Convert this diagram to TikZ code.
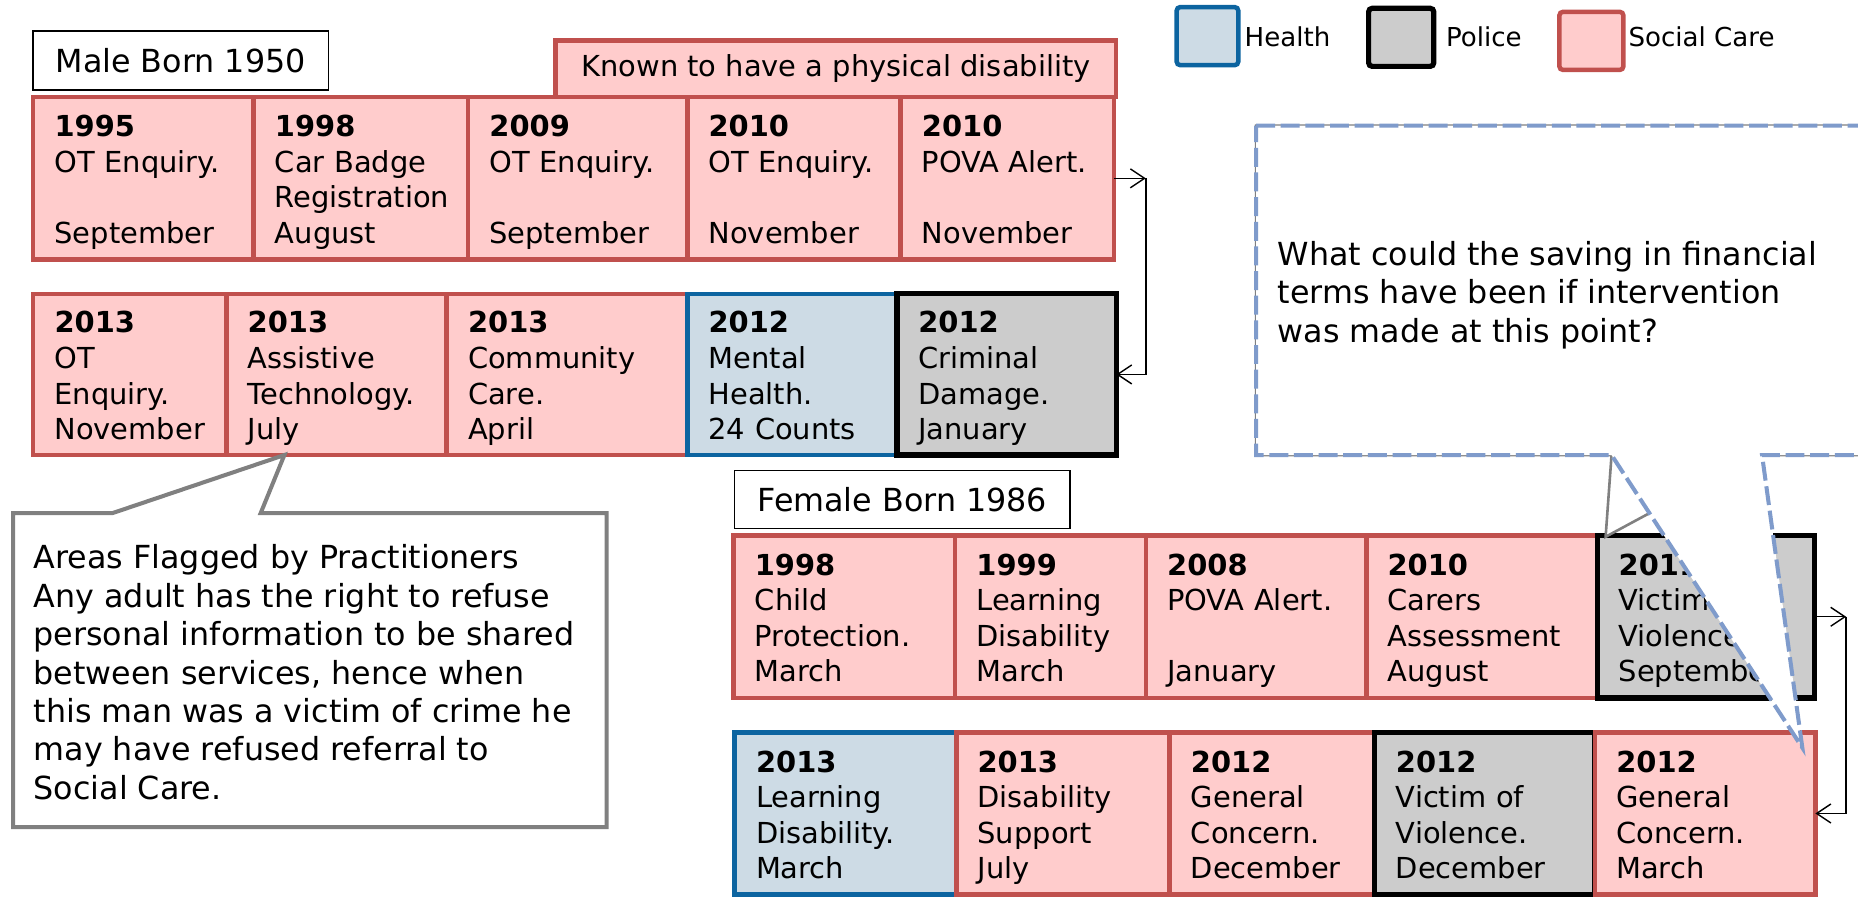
\documentclass[tikz,border=0pt]{standalone}
\usepackage{fontspec}
\setmainfont{DejaVu Sans}
\usetikzlibrary{arrows.meta}
\definecolor{scfill}{RGB}{255,204,204}
\definecolor{scdraw}{RGB}{192,80,77}
\definecolor{hfill}{RGB}{205,219,229}
\definecolor{hdraw}{RGB}{12,100,160}
\definecolor{pfill}{RGB}{204,204,204}
\definecolor{cgray}{RGB}{128,128,128}
\definecolor{cblue}{RGB}{127,155,203}
\newcommand{\cellfont}{\fontsize{12.2}{15}\selectfont}
\newcommand{\callfont}{\fontsize{13.4}{16.2}\selectfont}
\newcommand{\legfont}{\fontsize{11}{13}\selectfont}
\newcommand{\evtext}[4]{\strut\rule{0pt}{14.5pt}\textbf{#1}\\\strut\mbox{#2}\\\strut\mbox{#3}\\\strut\mbox{#4}}
\newcommand{\evt}[7]{%
  \pgfmathsetmacro{\ew}{(#4-#3)*0.5}%
  \pgfmathsetmacro{\eh}{(#6-#5)*0.5}%
  \pgfmathsetmacro{\etw}{(#4-#3-36)*0.5}%
  \node[#1, minimum width=\ew pt, minimum height=\eh pt, text width=\etw pt] (#2) at ({(#3+#4)/2},{(#5+#6)/2}) {#7};%
}
\tikzset{
  evt/.style={rectangle, inner sep=0pt, outer sep=0pt, font=\cellfont, align=left, line width=1.9pt},
  soc/.style={evt, fill=scfill, draw=scdraw},
  hlt/.style={evt, fill=hfill, draw=hdraw, line width=1.9pt},
  pol/.style={evt, fill=pfill, draw=black, line width=2.2pt},
  flow/.style={-{Straight Barb[length=6pt,width=8pt]}, line width=0.6pt},
  lbl/.style={draw=black, line width=0.6pt, fill=white, font=\callfont, inner sep=0pt},
  calltext/.style={anchor=north west, font=\callfont, align=left, inner sep=0pt},
  legtext/.style={anchor=west, font=\legfont, inner sep=0pt},
}
\begin{document}
\begin{tikzpicture}[x=0.5pt,y=-0.5pt]
\useasboundingbox (0,0) rectangle (1568,760);

% legend
\node[hlt, minimum width=26pt, minimum height=24.5pt, rounded corners=1.5pt] (lh) at (1019,30.5) {};
\node[legtext] (lht) at (1050,31) {Health};
\node[pol, minimum width=27.5pt, minimum height=24.5pt, rounded corners=1.5pt] (lp) at (1182.5,31.5) {};
\node[legtext] (lpt) at (1220,31) {Police};
\node[soc, minimum width=27pt, minimum height=24.5pt, rounded corners=1.5pt] (ls) at (1343,34.5) {};
\node[legtext] (lst) at (1374,31) {Social Care};

% male
\node[lbl, minimum width=124.5pt, minimum height=25pt] (male) at (152.5,51) {Male Born 1950};
\node[soc, minimum width=236.5pt, minimum height=24pt] (known) at (705.5,58) {Known to have a physical disability};

\evt{soc}{m1a}{28}{214}{82}{219}{\evtext{1995}{OT Enquiry.}{}{September}}
\evt{soc}{m1b}{214}{395}{82}{219}{\evtext{1998}{Car Badge}{Registration}{August}}
\evt{soc}{m1c}{395}{580}{82}{219}{\evtext{2009}{OT Enquiry.}{}{September}}
\evt{soc}{m1d}{580}{760}{82}{219}{\evtext{2010}{OT Enquiry.}{}{November}}
\evt{soc}{m1e}{760}{940}{82}{219}{\evtext{2010}{POVA Alert.}{}{November}}

\evt{soc}{m2a}{28}{191}{248}{384}{\evtext{2013}{OT}{Enquiry.}{November}}
\evt{soc}{m2b}{191}{377}{248}{384}{\evtext{2013}{Assistive}{Technology.}{July}}
\evt{soc}{m2c}{377}{580}{248}{384}{\evtext{2013}{Community}{Care.}{April}}
\evt{hlt}{m2d}{580}{757}{248}{384}{\evtext{2012}{Mental}{Health.}{24 Counts}}
\evt{pol}{m2e}{757}{942}{248}{384}{\evtext{2012}{Criminal}{Damage.}{January}}

\coordinate (mturn) at (967,150.5);
\draw[flow] (m1e) -- (mturn);
\draw[flow] (mturn) |- (m2e);

% female
\node[lbl, minimum width=141.5pt, minimum height=24.5pt] (female) at (761.5,421.5) {Female Born 1986};

\evt{soc}{f1a}{619}{806}{452}{589}{\evtext{1998}{Child}{Protection.}{March}}
\evt{soc}{f1b}{806}{967}{452}{589}{\evtext{1999}{Learning}{Disability}{March}}
\evt{soc}{f1c}{967}{1153}{452}{589}{\evtext{2008}{POVA Alert.}{}{January}}
\evt{soc}{f1d}{1153}{1348}{452}{589}{\evtext{2010}{Carers}{Assessment}{August}}
\evt{pol}{f1e}{1348}{1531}{452}{589}{\evtext{2011}{Victim of}{Violence.}{September}}

\evt{hlt}{f2a}{620}{807}{618}{755}{\evtext{2013}{Learning}{Disability.}{March}}
\evt{soc}{f2b}{807}{987}{618}{755}{\evtext{2013}{Disability}{Support}{July}}
\evt{soc}{f2c}{987}{1160}{618}{755}{\evtext{2012}{General}{Concern.}{December}}
\evt{pol}{f2d}{1160}{1346}{618}{755}{\evtext{2012}{Victim of}{Violence.}{December}}
\evt{soc}{f2e}{1346}{1532}{618}{755}{\evtext{2012}{General}{Concern.}{March}}

\coordinate (fturn) at (1558,520.5);
\draw[flow] (f1e) -- (fturn);
\draw[flow] (fturn) |- (f2e);

% left callout
\draw[draw=cgray, line width=1.7pt, fill=white, line join=miter]
  (11,433) -- (95,433) -- (240,384) -- (220,433) -- (512,433) -- (512,698) -- (11,698) -- cycle;
\node[calltext] (flagtxt) at (28,457) {\strut Areas Flagged by Practitioners\\\strut Any adult has the right to refuse\\\strut personal information to be shared\\\strut between services, hence when\\\strut this man was a victim of crime he\\\strut may have refused referral to\\\strut Social Care.};

% right callouts
\draw[draw=cgray, line width=1.1pt, fill=white]
  (1060,106) -- (1610,106) -- (1610,384) -- (1483,384) -- (1355,453) -- (1360,384) -- (1060,384) -- cycle;
\draw[draw=cblue, line width=1.7pt, fill=white, dash pattern=on 8pt off 2.4pt]
  (1060,106) -- (1610,106) -- (1610,384) -- (1487,384) -- (1521,631) -- (1360,384) -- (1060,384) -- cycle;
\node[calltext] (savetxt) at (1078,201) {\strut What could the saving in financial\\\strut terms have been if intervention\\\strut was made at this point?};
\end{tikzpicture}
\end{document}
